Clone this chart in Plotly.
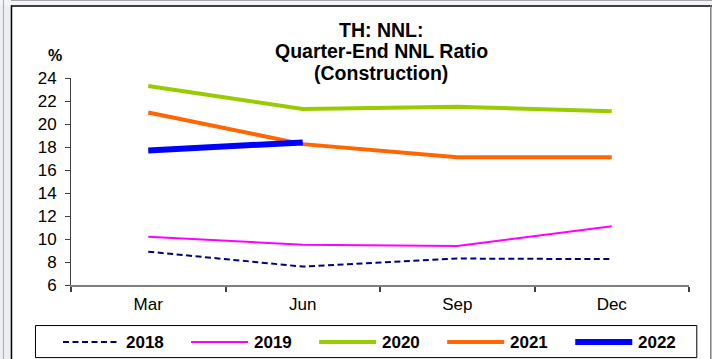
import plotly.graph_objects as go

# Quarter-end NNL ratio for the construction sector, in percent
quarters = ["Mar", "Jun", "Sep", "Dec"]
years = ["2018", "2019", "2020", "2021", "2022"]
nnl_2018 = [8.9, 7.6, 8.3, 8.25]
nnl_2019 = [10.2, 9.5, 9.4, 11.1]
nnl_2020 = [23.3, 21.3, 21.5, 21.1]
nnl_2021 = [21.0, 18.25, 17.1, 17.1]
nnl_2022 = [17.7, 18.4]
y_ticks = [6, 8, 10, 12, 14, 16, 18, 20, 22, 24]

series = [nnl_2018, nnl_2019, nnl_2020, nnl_2021, nnl_2022]
colors = ["#000080", "#FF00FF", "#99CC00", "#FF6600", "#0000FF"]
widths = [2, 2, 4, 4, 6]
dashes = ["6px,3.5px", "solid", "solid", "solid", "solid"]

W, H = 712, 359
ML, MR, MT, MB = 71, 23.3, 78.3, 74
PW = W - ML - MR
PH = H - MT - MB
FONT = "Arial, Liberation Sans, sans-serif"


def px(x):
    return (x - ML) / PW


def py(y):
    return (H - MB - y) / PH


fig = go.Figure()
for name, vals, c, w, d in zip(years, series, colors, widths, dashes):
    fig.add_trace(go.Scatter(
        x=quarters[:len(vals)], y=vals, mode="lines", name=name,
        line=dict(color=c, width=w, dash=d), showlegend=False,
    ))

shapes = [
    # surrounding frame
    dict(type="rect", xref="paper", yref="paper", x0=px(0), x1=px(11), y0=py(H), y1=py(0),
         fillcolor="#ECEEF3", line=dict(width=0), layer="below"),
    dict(type="rect", xref="paper", yref="paper", x0=px(0), x1=px(W), y0=py(6), y1=py(0),
         fillcolor="#F3F4F7", line=dict(width=0), layer="below"),
    dict(type="line", xref="paper", yref="paper", x0=px(3.5), x1=px(3.5), y0=py(0), y1=py(H),
         line=dict(color="#A8A8A8", width=1)),
    dict(type="line", xref="paper", yref="paper", x0=px(11), x1=px(W), y0=py(0.5), y1=py(0.5),
         line=dict(color="#707070", width=1)),
    dict(type="line", xref="paper", yref="paper", x0=px(11), x1=px(W), y0=py(6.5), y1=py(6.5),
         line=dict(color="#000000", width=1.5)),
    dict(type="line", xref="paper", yref="paper", x0=px(11.5), x1=px(11.5), y0=py(6), y1=py(H),
         line=dict(color="#000000", width=1.5)),
    dict(type="line", xref="paper", yref="paper", x0=px(710.5), x1=px(710.5), y0=py(6), y1=py(H),
         line=dict(color="#808080", width=1.5)),
    # legend box
    dict(type="rect", xref="paper", yref="paper", x0=px(35.5), x1=px(696.5), y0=py(357.5), y1=py(325.5),
         line=dict(color="#000000", width=1), fillcolor="rgba(0,0,0,0)"),
]

annotations = [
    dict(text="<b>%</b>", x=px(55), y=py(56), xref="paper", yref="paper", showarrow=False,
         font=dict(family=FONT, size=16, color="black"), xanchor="center", yanchor="middle"),
]
for i, line_txt in enumerate(["TH: NNL:", "Quarter-End NNL Ratio", "(Construction)"]):
    annotations.append(dict(
        text=f"<b>{line_txt}</b>", x=px(381), y=py(30 + 21.5 * i), xref="paper", yref="paper",
        showarrow=False, font=dict(family=FONT, size=19.5, color="black"),
        xanchor="center", yanchor="middle"))

# legend entries: sample line + bold year label
for i, (name, c, w, d) in enumerate(zip(years, colors, widths, dashes)):
    x0 = 63 + 128 * i
    shapes.append(dict(type="line", xref="paper", yref="paper", x0=px(x0), x1=px(x0 + 57),
                       y0=py(342), y1=py(342), line=dict(color=c, width=w, dash=d)))
    annotations.append(dict(text=f"<b>{name}</b>", x=px(x0 + 61), y=py(342.5), xref="paper",
                            yref="paper", showarrow=False, xanchor="left", yanchor="middle",
                            font=dict(family=FONT, size=17, color="black")))

fig.update_layout(
    width=W, height=H,
    margin=dict(l=ML, r=MR, t=MT, b=MB, pad=0),
    paper_bgcolor="white", plot_bgcolor="white",
    font=dict(family=FONT, color="black"),
    shapes=shapes, annotations=annotations,
    showlegend=False,
)
fig.update_xaxes(
    type="category", categoryorder="array", categoryarray=quarters, range=[-0.5, 3.5],
    showgrid=False, showline=True, linecolor="#808080", linewidth=2,
    ticks="outside", tickson="boundaries", ticklen=5, tickwidth=1.5, tickcolor="#404040",
    tickfont=dict(family=FONT, size=17, color="black"), zeroline=False,
    ticklabelstandoff=3,
)
fig.update_yaxes(
    range=[6, 24], tickvals=y_ticks, showgrid=False, showline=True, linecolor="#404040", linewidth=1,
    ticks="outside", ticklen=5, tickwidth=1, tickcolor="#404040",
    tickfont=dict(family=FONT, size=17, color="black"), zeroline=False,
    ticklabelstandoff=5,
)

fig.write_html("out.html")
